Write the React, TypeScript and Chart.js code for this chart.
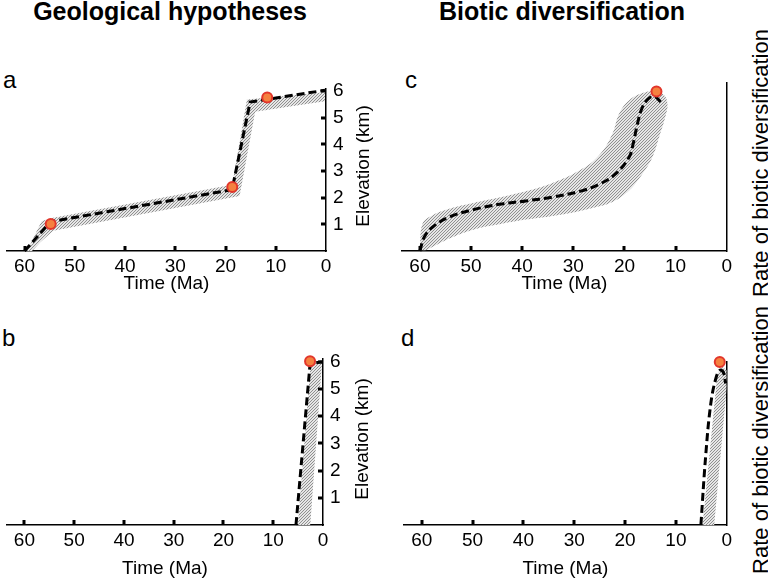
import React, { useEffect, useRef } from 'react';
import { Chart, registerables } from 'chart.js';

Chart.register(...registerables);

const FONT = '"Liberation Sans", Arial, Helvetica, sans-serif';

// ---------- text ----------
const TITLE_LEFT = 'Geological hypotheses';
const TITLE_RIGHT = 'Biotic diversification';
const X_TITLE = 'Time (Ma)';
const Y_TITLE_ELEV = 'Elevation (km)';
const Y_TITLE_RATE = 'Rate of biotic diversification';
const PANEL_LETTERS = ['a', 'b', 'c', 'd'];

// ---------- axes ----------
const X_TICKS = [60, 50, 40, 30, 20, 10, 0];
const ELEV_TICKS = [0, 1, 2, 3, 4, 5, 6];
const X_MAX = 63.5;
const ELEV_MAX = 6.1;
const RATE_MAX = 10;

// ---------- panel a : elevation, stepwise uplift ----------
const A_LINE_T = [60, 54.8, 18.7, 15.1, 0.2];
const A_LINE_E = [0, 1.1, 2.3, 5.59, 6.03];
const A_OBS_T = [54.8, 18.66, 11.7];
const A_OBS_E = [1.01, 2.4, 5.76];
const A_BAND_T = [59.5, 56.6, 54.3, 18.66, 15.74, 0.2, 0.2, 14.1, 17.2, 54.3, 56.9, 58.5];
const A_BAND_E = [0, 1.13, 1.25, 2.49, 5.68, 5.96, 5.62, 5.22, 2.06, 0.76, 0.33, 0];

// ---------- panel b : elevation, recent uplift ----------
const B_LINE_T = [5.43, 2.6, 0.2];
const B_LINE_E = [0, 5.92, 6.0];
const B_OBS_T = [2.6];
const B_OBS_E = [6.02];
const B_BAND_T = [5.04, 2.48, 0.2, 2.56];
const B_BAND_E = [0, 5.92, 5.98, 0];

// ---------- panel c : diversification rate, gradual ----------
const C_LINE_T = [60.0, 59.14, 57.5, 54.25, 49.56, 44.48, 39.28, 34.06, 28.73, 24.94, 21.69, 19.07, 18.29, 17.45, 16.61, 15.5, 14.19, 12.9];
const C_LINE_V = [0, 0.83, 1.43, 2.02, 2.46, 2.78, 2.98, 3.21, 3.55, 3.97, 4.6, 5.6, 6.39, 7.58, 8.47, 9.01, 9.21, 8.87];
const C_OBS_T = [13.74];
const C_OBS_V = [9.5];
const C_BAND_T = [60.0, 59.47, 57.51, 54.25, 49.56, 44.48, 39.28, 34.06, 28.73, 24.94, 22.34, 21.03, 19.07, 16.47, 13.88, 12.24, 11.59,
  11.92, 13.21, 14.52, 16.47, 19.07, 22.34, 26.89, 32.11, 39.28, 44.48, 49.56, 54.25, 56.87, 58.82];
const C_BAND_V = [0.04, 1.63, 2.13, 2.52, 2.86, 3.18, 3.55, 4.05, 4.8, 5.7, 6.99, 8.18, 8.97, 9.4, 9.52, 9.27, 8.77,
  8.08, 6.79, 5.6, 4.6, 3.61, 2.92, 2.52, 2.18, 1.87, 1.59, 1.27, 0.74, 0.34, 0.04];

// ---------- panel d : diversification rate, recent burst ----------
const D_LINE_T = [5.08, 4.1, 3.13, 2.15, 1.37, 0.7, 0.2];
const D_LINE_V = [0, 4.39, 7.45, 8.98, 9.49, 9.39, 8.68];
const D_OBS_T = [1.37];
const D_OBS_V = [10.0];
const D_BAND_T = [4.75, 1.83, 0.84, 0, 0, 2.46];
const D_BAND_V = [0, 9.29, 9.7, 9.49, 8.47, 0];

const zip = (xs: number[], ys: number[]) => xs.map((x, i) => ({ x, y: ys[i] }));

const tickMarks = {
  id: 'tickMarks',
  afterDatasetsDraw(chart: any, _args: any, opts: any) {
    const ctx = chart.ctx;
    const area = chart.chartArea;
    const xs = chart.scales.x;
    const ys = chart.scales.y;
    ctx.save();
    ctx.fillStyle = '#000';
    for (const t of xs.ticks) {
      if (t.value === 0) continue;
      const px = xs.getPixelForValue(t.value);
      ctx.fillRect(Math.round(px) - 1.5, area.bottom - 5, 3, 5);
    }
    if (opts && opts.yMarks) {
      for (const t of ys.ticks) {
        if (t.value === 0) continue;
        const py = ys.getPixelForValue(t.value);
        ctx.fillRect(area.right - 5, Math.round(py) - 1.5, 5, 3);
      }
    }
    ctx.restore();
  },
};

interface PanelCfg {
  lineT: number[]; lineV: number[]; lineTension: number;
  bandT: number[]; bandV: number[]; bandTension: number;
  obsT: number[]; obsV: number[];
  yMax: number; yTicks: number[] | null;
  xH: number; yW: number;
  padding: { left: number; right: number; top: number; bottom: number };
}

function makeChart(canvas: HTMLCanvasElement, cfg: PanelCfg, pattern: any) {
  return new Chart(canvas, {
    type: 'line',
    data: {
      datasets: [
        {
          label: 'observation',
          data: zip(cfg.obsT, cfg.obsV),
          showLine: false,
          pointRadius: 5,
          pointBorderWidth: 2,
          pointBackgroundColor: '#f5813f',
          pointBorderColor: '#e2362b',
          borderColor: 'transparent',
          order: 0,
          clip: false,
        },
        {
          label: 'model',
          data: zip(cfg.lineT, cfg.lineV),
          borderColor: '#000',
          borderWidth: 3,
          borderDash: [8, 4],
          pointRadius: 0,
          tension: cfg.lineTension,
          fill: false,
          order: 1,
          clip: false,
        },
        {
          label: 'uncertainty',
          data: zip(cfg.bandT, cfg.bandV),
          borderColor: 'transparent',
          borderWidth: 0,
          backgroundColor: pattern,
          fill: 'shape',
          pointRadius: 0,
          tension: cfg.bandTension,
          order: 2,
          clip: false,
        },
      ] as any,
    },
    options: {
      animation: false,
      responsive: false,
      devicePixelRatio: 1,
      events: [],
      layout: { padding: cfg.padding },
      plugins: {
        legend: { display: false },
        tooltip: { enabled: false },
        tickMarks: { yMarks: !!cfg.yTicks },
      } as any,
      scales: {
        x: {
          type: 'linear',
          reverse: true,
          min: 0,
          max: X_MAX,
          afterBuildTicks: (s: any) => { s.ticks = X_TICKS.map((v) => ({ value: v })); },
          afterFit: (s: any) => { s.height = cfg.xH; },
          grid: { display: false, drawTicks: false },
          border: { display: true, color: '#000', width: 1.5 },
          ticks: { font: { size: 19, family: FONT }, color: '#000', padding: 4, maxRotation: 0, autoSkip: false },
          title: { display: true, text: X_TITLE, font: { size: 19, family: FONT }, color: '#000', padding: { top: 0, bottom: 0 } },
        },
        y: {
          type: 'linear',
          position: 'right',
          min: 0,
          max: cfg.yMax,
          afterBuildTicks: (s: any) => { s.ticks = (cfg.yTicks || []).map((v) => ({ value: v })); },
          afterFit: (s: any) => { s.width = cfg.yW; },
          grid: { display: false, drawTicks: false },
          border: { display: true, color: '#000', width: 1.5 },
          ticks: {
            display: !!cfg.yTicks,
            font: { size: 19, family: FONT },
            color: '#000',
            padding: 7,
            callback: (v: any) => (v === 0 ? '' : String(v)),
          },
        },
      } as any,
    },
    plugins: [tickMarks as any],
  });
}

const PANELS: { left: number; top: number; width: number; height: number; cfg: PanelCfg }[] = [
  {
    left: 0, top: 70, width: 356, height: 225,
    cfg: {
      lineT: A_LINE_T, lineV: A_LINE_E, lineTension: 0,
      bandT: A_BAND_T, bandV: A_BAND_E, bandTension: 0,
      obsT: A_OBS_T, obsV: A_OBS_E,
      yMax: ELEV_MAX, yTicks: ELEV_TICKS, xH: 44, yW: 30,
      padding: { left: 0, right: 0, top: 15, bottom: 0 },
    },
  },
  {
    left: 0, top: 340, width: 353, height: 240,
    cfg: {
      lineT: B_LINE_T, lineV: B_LINE_E, lineTension: 0,
      bandT: B_BAND_T, bandV: B_BAND_E, bandTension: 0,
      obsT: B_OBS_T, obsV: B_OBS_E,
      yMax: ELEV_MAX, yTicks: ELEV_TICKS, xH: 55, yW: 30,
      padding: { left: 0, right: 0, top: 19, bottom: 0 },
    },
  },
  {
    left: 384, top: 70, width: 352, height: 225,
    cfg: {
      lineT: C_LINE_T, lineV: C_LINE_V, lineTension: 0.4,
      bandT: C_BAND_T, bandV: C_BAND_V, bandTension: 0.4,
      obsT: C_OBS_T, obsV: C_OBS_V,
      yMax: RATE_MAX, yTicks: null, xH: 44, yW: 0,
      padding: { left: 18, right: 8, top: 13, bottom: 0 },
    },
  },
  {
    left: 384, top: 340, width: 352, height: 240,
    cfg: {
      lineT: D_LINE_T, lineV: D_LINE_V, lineTension: 0.4,
      bandT: D_BAND_T, bandV: D_BAND_V, bandTension: 0,
      obsT: D_OBS_T, obsV: D_OBS_V,
      yMax: RATE_MAX, yTicks: null, xH: 55, yW: 0,
      padding: { left: 20, right: 8, top: 22, bottom: 0 },
    },
  },
];

function makePattern() {
  const pc = document.createElement('canvas');
  pc.width = 3;
  pc.height = 3;
  const g = pc.getContext('2d')!;
  g.fillStyle = '#e6e6e6';
  g.fillRect(0, 0, 3, 3);
  g.strokeStyle = '#909090';
  g.lineWidth = 1;
  g.beginPath();
  g.moveTo(0, 3); g.lineTo(3, 0);
  g.moveTo(-1, 1); g.lineTo(1, -1);
  g.moveTo(2, 4); g.lineTo(4, 2);
  g.stroke();
  const ctx = document.createElement('canvas').getContext('2d')!;
  return ctx.createPattern(pc, 'repeat');
}

const rotated = (cx: number, cy: number, size: number): React.CSSProperties => ({
  position: 'absolute',
  left: cx,
  top: cy,
  transform: 'translate(-50%, -50%) rotate(-90deg)',
  whiteSpace: 'nowrap',
  fontSize: size,
  lineHeight: 1,
  fontFamily: FONT,
  color: '#000',
});

export default function App() {
  const refs = [useRef<HTMLCanvasElement>(null), useRef<HTMLCanvasElement>(null), useRef<HTMLCanvasElement>(null), useRef<HTMLCanvasElement>(null)];

  useEffect(() => {
    Chart.defaults.font.family = FONT;
    Chart.defaults.color = '#000';
    const pattern = makePattern();
    const charts = PANELS.map((p, i) => makeChart(refs[i].current!, p.cfg, pattern));
    return () => charts.forEach((c) => c.destroy());
  }, []);

  const letterStyle = (left: number, top: number): React.CSSProperties => ({
    position: 'absolute', left, top, fontSize: 24, lineHeight: '24px', fontFamily: FONT, color: '#000',
  });
  const headStyle = (left: number, width: number): React.CSSProperties => ({
    position: 'absolute', left, top: -1, width, textAlign: 'center', fontSize: 25, lineHeight: '25px',
    fontWeight: 'bold', fontFamily: FONT, color: '#000', whiteSpace: 'nowrap',
  });

  return (
    <div style={{ position: 'absolute', left: 0, top: 0, width: 768, height: 580, overflow: 'hidden', background: '#fff' }}>
      <div style={headStyle(0, 340)}>{TITLE_LEFT}</div>
      <div style={headStyle(400, 324)}>{TITLE_RIGHT}</div>
      <div style={letterStyle(3, 68)}>{PANEL_LETTERS[0]}</div>
      <div style={letterStyle(2, 326)}>{PANEL_LETTERS[1]}</div>
      <div style={letterStyle(405, 68)}>{PANEL_LETTERS[2]}</div>
      <div style={letterStyle(401, 326)}>{PANEL_LETTERS[3]}</div>
      {PANELS.map((p, i) => (
        <canvas
          key={i}
          ref={refs[i]}
          width={p.width}
          height={p.height}
          style={{ position: 'absolute', left: p.left, top: p.top, width: p.width, height: p.height }}
        />
      ))}
      <div style={rotated(362, 166, 19)}>{Y_TITLE_ELEV}</div>
      <div style={rotated(361, 439, 19)}>{Y_TITLE_ELEV}</div>
      <div style={rotated(761, 163, 22)}>{Y_TITLE_RATE}</div>
      <div style={rotated(761, 440, 22)}>{Y_TITLE_RATE}</div>
    </div>
  );
}
